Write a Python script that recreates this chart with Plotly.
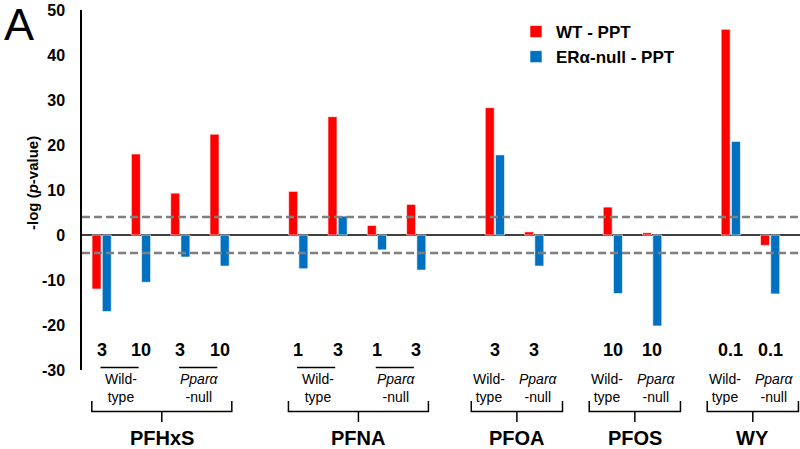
import plotly.graph_objects as go

# ---------------- data ----------------
slots = [0, 1, 2, 3, 5, 6, 7, 8, 10, 11, 13, 14, 16, 17]
doses = ["3", "10", "3", "10", "1", "3", "1", "3", "3", "3", "10", "10", "0.1", "0.1"]
wt_ppt = [-12, 18, 9.3, 22.4, 9.7, 26.3, 2.1, 6.8, 28.3, 0.7, 6.2, 0.5, 45.7, -2.3]
era_null_ppt = [-17, -10.5, -4.9, -6.9, -7.5, 4.2, -3.3, -7.8, 17.8, -6.9, -13, -20.2, 20.8, -13.1]
compounds = ["PFHxS", "PFNA", "PFOA", "PFOS", "WY"]
compound_slots = [[0, 1, 2, 3], [5, 6, 7, 8], [10, 11], [13, 14], [16, 17]]
genotype_labels = ["Wild-<br>type", "<i>Pparα</i><br>-null"]
threshold = 4
y_ticks = [-30, -20, -10, 0, 10, 20, 30, 40, 50]
y_tick_labels = ["-30", "-20", "-10", "0", "10", "20", "30", "40", "50"]

# ---------------- layout helpers ----------------
W, H = 800, 449
ML, MR, MT, MB = 82, 0, 10, 79
PW, PH = W - ML - MR, H - MT - MB
FONT = "Liberation Sans, Arial, sans-serif"


def py(p):
    return (H - MB - p) / PH


def px(p):
    return (p - ML) / PW


def ann(**kw):
    base = dict(showarrow=False, xanchor="center", yanchor="middle")
    base.update(kw)
    return base


fig = go.Figure()
fig.add_trace(go.Bar(x=slots, y=wt_ppt, name="<b>WT - PPT</b>",
                     marker=dict(color="#FF0000", line=dict(color="rgba(255,255,255,0.6)", width=1))))
fig.add_trace(go.Bar(x=slots, y=era_null_ppt, name="<b>ERα-null - PPT</b>",
                     marker=dict(color="#0070C0", line=dict(color="rgba(255,255,255,0.6)", width=1))))

shapes = []
annotations = []

# threshold lines
for t in (threshold, -threshold):
    shapes.append(dict(type="line", xref="paper", x0=0, x1=1, yref="y", y0=t, y1=t,
                       line=dict(color="#7F7F7F", width=2.5, dash="8px,4px")))

# dose labels
for s, d in zip(slots, doses):
    annotations.append(ann(x=s, xref="x", y=py(350), yref="paper", text=f"<b>{d}</b>",
                           font=dict(size=18, color="black", family=FONT)))

for name, cs in zip(compounds, compound_slots):
    if len(cs) == 4:
        pairs = [cs[0:2], cs[2:4]]
        for g, pr in zip(genotype_labels, pairs):
            shapes.append(dict(type="line", xref="x", x0=pr[0] - 0.03, x1=pr[1] - 0.06,
                               yref="paper", y0=py(367.5), y1=py(367.5),
                               line=dict(color="black", width=1.5)))
            annotations.append(ann(x=(pr[0] + pr[1]) / 2, xref="x", y=py(388), yref="paper",
                                   text=g, font=dict(size=14, color="black", family=FONT)))
        left, right = cs[0] - 0.25, cs[-1] + 0.31
    else:
        for g, s, off in zip(genotype_labels, cs, (-0.15, 0.12)):
            annotations.append(ann(x=s + off, xref="x", y=py(388), yref="paper",
                                   text=g, font=dict(size=14, color="black", family=FONT)))
        left, right = cs[0] - 0.6, cs[-1] + 0.72
    mid = (left + right) / 2
    yb = py(411.5)
    shapes.append(dict(type="path", xref="x", yref="paper",
                       path=f"M {left},{py(401)} L {left},{yb} L {right},{yb} L {right},{py(401)}",
                       line=dict(color="black", width=1.5)))
    shapes.append(dict(type="line", xref="x", x0=mid, x1=mid, yref="paper", y0=yb, y1=py(422),
                       line=dict(color="black", width=1.5)))
    annotations.append(ann(x=mid, xref="x", y=py(438), yref="paper", text=f"<b>{name}</b>",
                           font=dict(size=20, color="black", family=FONT)))

# y title
annotations.append(ann(x=px(33), xref="paper", y=py(183), yref="paper",
                       text="<b>-log (<i>p</i>-value)</b>", textangle=-90,
                       font=dict(size=15, color="black", family=FONT)))
# panel letter
annotations.append(ann(x=px(19), xref="paper", y=py(25), yref="paper", text="A",
                       font=dict(size=45, color="black", family=FONT)))

fig.update_layout(
    width=W, height=H,
    margin=dict(l=ML, r=MR, t=MT, b=MB, autoexpand=False),
    paper_bgcolor="white", plot_bgcolor="white",
    barmode="group", bargap=0.48, bargroupgap=0.12,
    font=dict(family=FONT, color="black"),
    xaxis=dict(range=[-0.5, 17.76], showticklabels=False, showgrid=False, zeroline=False,
               showline=False, ticks="", automargin=False),
    yaxis=dict(range=[-30, 50], tickvals=y_ticks, ticktext=y_tick_labels,
               showgrid=False, automargin=False,
               zeroline=True, zerolinecolor="#404040", zerolinewidth=1.5,
               showline=True, linecolor="black", linewidth=1.5, ticks="",
               ticklabelstandoff=12,
               tickfont=dict(size=16, color="black", family=FONT, weight="bold")),
    legend=dict(x=px(516), y=py(14), xanchor="left", yanchor="top",
                font=dict(size=17, color="black", family=FONT),
                bgcolor="rgba(0,0,0,0)", tracegroupgap=0),
    shapes=shapes, annotations=annotations,
)

fig.write_html("out.html", config={"displayModeBar": False},
               post_script="document.body.style.margin='0';")
